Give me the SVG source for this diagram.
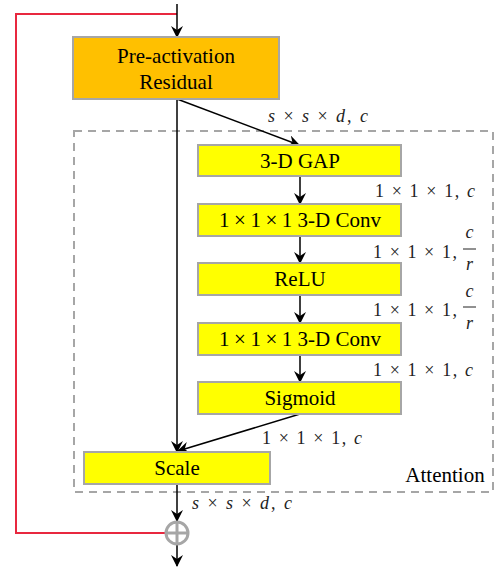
<svg xmlns="http://www.w3.org/2000/svg" width="495" height="570" viewBox="0 0 495 570">
<style>
.box{stroke:#A6A6A6;stroke-width:2}
.y{fill:#FFFF00}
.o{fill:#FFC000}
.t{font-family:"Liberation Serif","Times New Roman",serif;font-size:21px;fill:#000;text-anchor:middle}
.m{font-family:"Liberation Serif","Times New Roman",serif;font-size:18px;fill:#222}
.i{font-style:italic}
.ln{stroke:#000;stroke-width:1.5;fill:none}
.red{stroke:#E8283F;stroke-width:2;fill:none}
</style>
<defs>
<marker id="ah" viewBox="0 0 12 12" refX="11" refY="6" markerWidth="12" markerHeight="12" markerUnits="userSpaceOnUse" orient="auto">
<path d="M0,0 L12,6 L0,12 L4,6 z" fill="#000"/>
</marker>
</defs>
<rect x="74" y="131" width="419" height="361" fill="none" stroke="#A6A6A6" stroke-width="2" stroke-dasharray="8,6"/>
<g id="connectors">
<polyline class="red" points="177,14 16,14 16,533 165,533"/>
<line class="ln" x1="177" y1="4" x2="177" y2="37" marker-end="url(#ah)"/>
<line class="ln" x1="177" y1="99" x2="177" y2="452" marker-end="url(#ah)"/>
<line class="ln" x1="177" y1="99" x2="299" y2="145" marker-end="url(#ah)"/>
<line class="ln" x1="300" y1="176" x2="300" y2="204" marker-end="url(#ah)"/>
<line class="ln" x1="300" y1="236" x2="300" y2="263" marker-end="url(#ah)"/>
<line class="ln" x1="300" y1="295" x2="300" y2="323" marker-end="url(#ah)"/>
<line class="ln" x1="300" y1="355" x2="300" y2="382" marker-end="url(#ah)"/>
<line class="ln" x1="300" y1="414" x2="178" y2="451" marker-end="url(#ah)"/>
<line class="ln" x1="177" y1="484" x2="177" y2="521" marker-end="url(#ah)"/>
<line class="ln" x1="177" y1="545" x2="177" y2="566" marker-end="url(#ah)"/>
</g>
<g id="preact">
<rect class="box o" x="73" y="37" width="206" height="62"/>
<text class="t" x="176" y="63">Pre-activation</text>
<text class="t" x="176" y="89">Residual</text>
</g>
<g id="gap">
<rect class="box y" x="198" y="145" width="203" height="31"/>
<text class="t" x="300" y="168">3-D GAP</text>
</g>
<g id="conv1">
<rect class="box y" x="198" y="204" width="203" height="32"/>
<text class="t" x="300" y="227">1<tspan dx="4.5">×</tspan><tspan dx="4.5">1</tspan><tspan dx="4.5">×</tspan><tspan dx="4.5">1</tspan> 3-D Conv</text>
</g>
<g id="relu">
<rect class="box y" x="198" y="263" width="203" height="32"/>
<text class="t" x="300" y="286">ReLU</text>
</g>
<g id="conv2">
<rect class="box y" x="198" y="323" width="203" height="32"/>
<text class="t" x="300" y="346">1<tspan dx="4.5">×</tspan><tspan dx="4.5">1</tspan><tspan dx="4.5">×</tspan><tspan dx="4.5">1</tspan> 3-D Conv</text>
</g>
<g id="sigmoid">
<rect class="box y" x="198" y="382" width="203" height="32"/>
<text class="t" x="300" y="405">Sigmoid</text>
</g>
<g id="scale">
<rect class="box y" x="84" y="452" width="186" height="32"/>
<text class="t" x="177" y="475">Scale</text>
</g>
<g id="add">
<circle cx="177" cy="533" r="11" fill="#fff" stroke="#A6A6A6" stroke-width="3"/>
<line x1="166" y1="533" x2="188" y2="533" stroke="#A6A6A6" stroke-width="3"/>
<line x1="177" y1="522" x2="177" y2="544" stroke="#A6A6A6" stroke-width="3"/>
</g>
<g id="labels">
<text class="m" x="268" y="122" textLength="100" lengthAdjust="spacing"><tspan class="i">s</tspan> × <tspan class="i">s</tspan> × <tspan class="i">d</tspan>, <tspan class="i">c</tspan></text>
<text class="m" x="375" y="197" textLength="100" lengthAdjust="spacing">1 × 1 × 1, <tspan class="i">c</tspan></text>
<text class="m" x="373" y="258" textLength="84" lengthAdjust="spacing">1 × 1 × 1,</text>
<text class="m i" x="469.5" y="238" text-anchor="middle">c</text>
<line x1="463" y1="249" x2="476" y2="249" stroke="#222" stroke-width="1"/>
<text class="m i" x="469.5" y="270" text-anchor="middle">r</text>
<text class="m" x="373" y="316" textLength="84" lengthAdjust="spacing">1 × 1 × 1,</text>
<text class="m i" x="469.5" y="297" text-anchor="middle">c</text>
<line x1="463" y1="307" x2="476" y2="307" stroke="#222" stroke-width="1"/>
<text class="m i" x="469.5" y="329" text-anchor="middle">r</text>
<text class="m" x="373" y="376" textLength="100" lengthAdjust="spacing">1 × 1 × 1, <tspan class="i">c</tspan></text>
<text class="m" x="262" y="444" textLength="100" lengthAdjust="spacing">1 × 1 × 1, <tspan class="i">c</tspan></text>
<text class="t" x="445" y="482">Attention</text>
<text class="m" x="192" y="509" textLength="100" lengthAdjust="spacing"><tspan class="i">s</tspan> × <tspan class="i">s</tspan> × <tspan class="i">d</tspan>, <tspan class="i">c</tspan></text>
</g>
</svg>
